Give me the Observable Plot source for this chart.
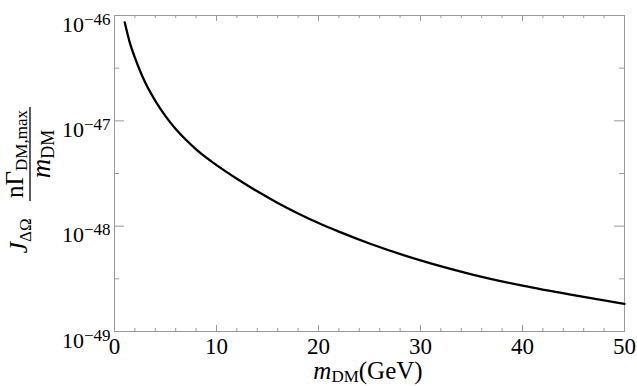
<!DOCTYPE html>
<html>
<head>
<meta charset="utf-8">
<script src="https://cdn.jsdelivr.net/npm/d3@7"></script>
<script src="https://cdn.jsdelivr.net/npm/@observablehq/plot@0.6"></script>
<style>
  html, body { margin: 0; padding: 0; background: white; }
</style>
</head>
<body>
<div id="chart"></div>
<script>
// Data
const mDM = [1, 1.5, 2, 2.5, 3, 4, 5, 6, 7, 8, 9, 10, 12, 14, 16, 18, 20, 22, 25, 30, 35, 40, 45, 50];
const rate = [8.61e-47, 5.52e-47, 3.98e-47, 2.99e-47, 2.32e-47, 1.55e-47, 1.11e-47, 8.36e-48, 6.61e-48,
              5.37e-48, 4.47e-48, 3.80e-48, 2.82e-48, 2.14e-48, 1.66e-48, 1.32e-48, 1.07e-48, 8.87e-49,
              6.84e-49, 4.73e-49, 3.49e-49, 2.72e-49, 2.21e-49, 1.83e-49];

const xMajor = [0, 10, 20, 30, 40, 50];
const xMinor = [2, 4, 6, 8, 12, 14, 16, 18, 22, 24, 26, 28, 32, 34, 36, 38, 42, 44, 46, 48];
const yMajor = [1e-49, 1e-48, 1e-47, 1e-46];
const yMinor = [3.162e-49, 3.162e-48, 3.162e-47];

const W = 637, H = 386, mL = 114, mR = 13, mT = 15, mB = 55;
const pw = W - mL - mR, ph = H - mT - mB;
const gray = "#999";
const serif = "'Liberation Serif', 'Times New Roman', serif";

const data = mDM.map((m, i) => ({m, v: rate[i]}));

const chart = Plot.plot({
  width: W, height: H,
  marginLeft: mL, marginRight: mR, marginTop: mT, marginBottom: mB,
  style: {fontFamily: serif, background: "white", color: "black"},
  x: {domain: [0, 50]},
  y: {type: "log", domain: [1e-49, 1e-46]},
  marks: [
    Plot.frame({stroke: gray, strokeWidth: 1}),
    Plot.tickX(xMajor, {x: d => d, stroke: gray, insetTop: ph - 6}),
    Plot.tickX(xMinor, {x: d => d, stroke: gray, insetTop: ph - 3}),
    Plot.tickX(xMajor, {x: d => d, stroke: gray, insetBottom: ph - 6}),
    Plot.tickX(xMinor, {x: d => d, stroke: gray, insetBottom: ph - 3}),
    Plot.tickY(yMajor, {y: d => d, stroke: gray, insetRight: pw - 10}),
    Plot.tickY(yMinor, {y: d => d, stroke: gray, insetRight: pw - 5}),
    Plot.tickY(yMajor, {y: d => d, stroke: gray, insetLeft: pw - 10}),
    Plot.tickY(yMinor, {y: d => d, stroke: gray, insetLeft: pw - 5}),
    Plot.axisX({ticks: xMajor, tickSize: 0, tickPadding: 6, fontSize: 23, label: null}),
    Plot.axisY({ticks: yMajor, tickSize: 0, tickPadding: 4, fontSize: 22, label: null,
                tickFormat: d => "10^" + Math.round(Math.log10(d))}),
    Plot.line(data, {x: "m", y: "v", stroke: "black", strokeWidth: 2.3, curve: "monotone-x"})
  ]
});

document.getElementById("chart").appendChild(chart);

const svg = d3.select(chart);
// x tick labels: serif, larger
svg.selectAll('g[aria-label="x-axis tick label"] text').each(function() {
  this.setAttribute("font-family", serif);
  this.style.fontFamily = serif;
  this.style.fontSize = "23px";
  this.style.fontVariant = "normal";
});
// y tick labels: serif, with superscript exponents
svg.selectAll('g[aria-label="y-axis tick label"] text').each(function() {
  this.setAttribute("font-family", serif);
  this.style.fontFamily = serif;
  this.style.fontSize = "22px";
  this.style.fontVariant = "normal";
  this.setAttribute("dy", "0.41em");
  const t = this.textContent;
  const [b, e] = t.split("^");
  this.textContent = b;
  d3.select(this).append("tspan").attr("dy", -7).style("font-size", "17px").text(e.replace("-", "\u2212"));
});

const g = svg.append("g").style("font-family", serif).attr("fill", "black");

// x label
const xl = g.append("text").attr("x", 368).attr("y", 379).attr("text-anchor", "middle").style("font-size", "25px");
xl.append("tspan").attr("font-style", "italic").text("m");
xl.append("tspan").style("font-size", "17px").attr("dy", 3).text("DM");
xl.append("tspan").attr("dy", -3).text("(GeV)");

// y label (rotated)
const yl = g.append("g").attr("transform", "translate(30,236) rotate(-90)");
const jt = yl.append("text").attr("x", 0).attr("y", -3).style("font-size", "26px");
jt.append("tspan").attr("font-style", "italic").text("J");
jt.append("tspan").style("font-size", "17px").attr("dy", 4).text("\u0394\u03A9");
yl.append("line").attr("x1", 35).attr("x2", 129).attr("y1", 0).attr("y2", 0)
  .attr("stroke", "black").attr("stroke-width", 1.3);
const num = yl.append("text").attr("x", 82).attr("y", -7).attr("text-anchor", "middle").style("font-size", "25px");
num.append("tspan").text("n\u0393");
num.append("tspan").style("font-size", "17px").attr("dy", 4).text("DM,max");
const den = yl.append("text").attr("x", 82).attr("y", 20).attr("text-anchor", "middle").style("font-size", "27px");
den.append("tspan").attr("font-style", "italic").text("m");
den.append("tspan").style("font-size", "18px").attr("dy", 4).text("DM");
</script>
</body>
</html>
